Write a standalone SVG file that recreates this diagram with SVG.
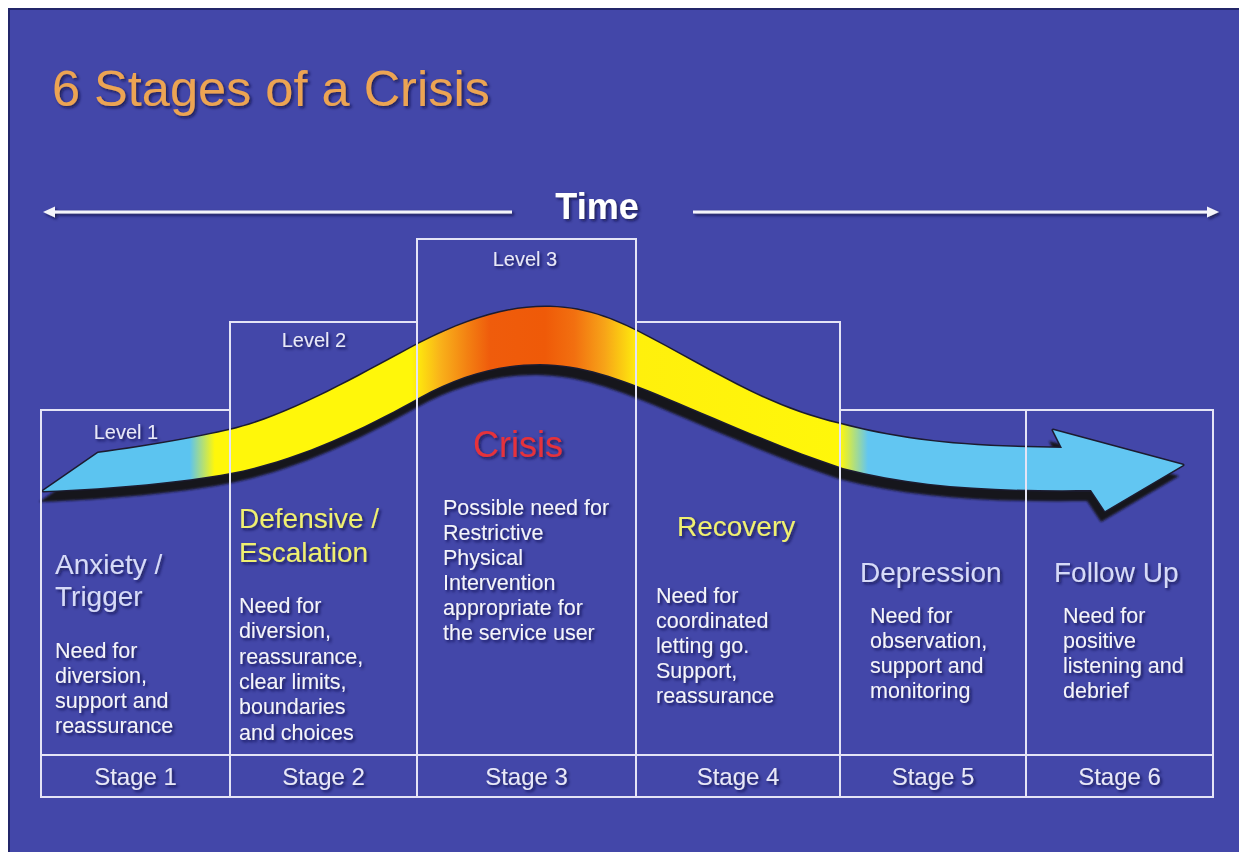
<svg xmlns="http://www.w3.org/2000/svg" width="1239" height="852" viewBox="0 0 1239 852">
  <style>
    .t { font-family: "Liberation Sans", Arial, Helvetica, sans-serif; }
    .box { fill: none; stroke: #E4E4F6; stroke-width: 2; }
    .lvl { font-size: 20px; fill: #E8E8F8; text-anchor: middle; }
    .head { font-size: 28px; }
    .lav { fill: #D6DAF8; }
    .yel { fill: #F0F070; }
    .red { fill: #E6323A; }
    .body { font-size: 21.5px; fill: #F4F4FA; }
    .stage { font-size: 24px; fill: #E8E8F8; text-anchor: middle; }
    .axis { stroke: #F4F4FA; stroke-width: 3; fill: none; }
  </style>
  <defs>
    <filter id="txtShadow" x="-10%" y="-30%" width="130%" height="170%">
      <feDropShadow dx="2" dy="2" stdDeviation="1.6" flood-color="#14163C" flood-opacity="0.75"/>
    </filter>
    <filter id="soft" x="-5%" y="-10%" width="110%" height="130%">
      <feGaussianBlur stdDeviation="1.2"/>
    </filter>
    <linearGradient id="bandGrad" gradientUnits="userSpaceOnUse" x1="40" y1="0" x2="1190" y2="0">
      <stop offset="0" stop-color="#5CC4F0"/>
      <stop offset="0.130" stop-color="#5CC4F0"/>
      <stop offset="0.152" stop-color="#FFF70A"/>
      <stop offset="0.323" stop-color="#FFF70A"/>
      <stop offset="0.348" stop-color="#F9B21A"/>
      <stop offset="0.372" stop-color="#F38012"/>
      <stop offset="0.391" stop-color="#EF5C0C"/>
      <stop offset="0.439" stop-color="#EF5A08"/>
      <stop offset="0.465" stop-color="#F27010"/>
      <stop offset="0.491" stop-color="#F7A418"/>
      <stop offset="0.520" stop-color="#FFF00C"/>
      <stop offset="0.696" stop-color="#FFF70A"/>
      <stop offset="0.720" stop-color="#62C6F2"/>
      <stop offset="1" stop-color="#62C6F2"/>
    </linearGradient>
    <path id="band" d="M 98,453 C 150,446 200,437 230,430 C 290,416 360,375 420,343 C 470,318 510,306 550,307 C 590,308 620,322 650,338 C 720,375 770,408 840,424 C 900,440 960,447 1062,448 L 1053,430 L 1183,465 L 1105,511 L 1091,490 C 1000,491 920,488 843,468 C 780,447 720,420 667,398 C 620,378 580,364 540,364 C 500,364 460,375 420,397 C 370,425 300,460 230,473 C 180,482 120,488 43,491 Z"/>
  </defs>

  <!-- page and panel -->
  <rect x="0" y="0" width="1239" height="852" fill="#FFFFFF"/>
  <rect x="9" y="9" width="1232" height="845" fill="#4347A9" stroke="#23266A" stroke-width="2"/>

  <!-- title -->
  <text class="t" x="52" y="106" font-size="50.5" fill="#ECA453" filter="url(#txtShadow)">6 Stages of a Crisis</text>

  <!-- time axis -->
  <g id="connectors">
    <g filter="url(#txtShadow)">
      <line class="axis" x1="52" y1="212" x2="512" y2="212"/>
      <polygon points="43,212 55,206.5 55,217.5" fill="#F4F4FA"/>
      <line class="axis" x1="693" y1="212" x2="1209" y2="212"/>
      <polygon points="1219,212 1207,206.5 1207,217.5" fill="#F4F4FA"/>
    </g>
    <text class="t" x="597" y="219" font-size="36" font-weight="bold" fill="#FFFFFF" text-anchor="middle" filter="url(#txtShadow)">Time</text>
  </g>

  <!-- escalation curve: drop shadow, thin dark rim, gradient fill -->
  <g id="crisis-curve">
    <use href="#band" transform="translate(-4,11)" fill="#16161C" filter="url(#soft)"/>
    <use href="#band" fill="none" stroke="#1C1C30" stroke-width="3" stroke-linejoin="round"/>
    <use href="#band" fill="url(#bandGrad)"/>
  </g>

  <g id="stage1">
    <rect class="box" x="41" y="410" width="189" height="387"/>
    <text class="t lvl" x="126" y="439" filter="url(#txtShadow)">Level 1</text>
    <g class="t" filter="url(#txtShadow)">
      <text class="head lav" x="55" y="574">Anxiety /</text>
      <text class="head lav" x="55" y="606">Trigger</text>
      <text class="body" x="55" y="658">Need for</text>
      <text class="body" x="55" y="683">diversion,</text>
      <text class="body" x="55" y="708">support and</text>
      <text class="body" x="55" y="733">reassurance</text>
    </g>
    <text class="t stage" x="135.5" y="785" filter="url(#txtShadow)">Stage 1</text>
  </g>

  <g id="stage2">
    <rect class="box" x="230" y="322" width="187" height="475"/>
    <text class="t lvl" x="314" y="347" filter="url(#txtShadow)">Level 2</text>
    <g class="t" filter="url(#txtShadow)">
      <text class="head yel" x="239" y="528">Defensive /</text>
      <text class="head yel" x="239" y="562">Escalation</text>
      <text class="body" x="239" y="613">Need for</text>
      <text class="body" x="239" y="638">diversion,</text>
      <text class="body" x="239" y="664">reassurance,</text>
      <text class="body" x="239" y="689">clear limits,</text>
      <text class="body" x="239" y="714">boundaries</text>
      <text class="body" x="239" y="740">and choices</text>
    </g>
    <text class="t stage" x="323.5" y="785" filter="url(#txtShadow)">Stage 2</text>
  </g>

  <g id="stage3">
    <rect class="box" x="417" y="239" width="219" height="558"/>
    <text class="t lvl" x="525" y="266" filter="url(#txtShadow)">Level 3</text>
    <g class="t" filter="url(#txtShadow)">
      <text class="red" x="518" y="457" font-size="36" text-anchor="middle">Crisis</text>
      <text class="body" x="443" y="515">Possible need for</text>
      <text class="body" x="443" y="540">Restrictive</text>
      <text class="body" x="443" y="565">Physical</text>
      <text class="body" x="443" y="590">Intervention</text>
      <text class="body" x="443" y="615">appropriate for</text>
      <text class="body" x="443" y="640">the service user</text>
    </g>
    <text class="t stage" x="526.5" y="785" filter="url(#txtShadow)">Stage 3</text>
  </g>

  <g id="stage4">
    <rect class="box" x="636" y="322" width="204" height="475"/>
    <g class="t" filter="url(#txtShadow)">
      <text class="head yel" x="677" y="536">Recovery</text>
      <text class="body" x="656" y="603">Need for</text>
      <text class="body" x="656" y="628">coordinated</text>
      <text class="body" x="656" y="653">letting go.</text>
      <text class="body" x="656" y="678">Support,</text>
      <text class="body" x="656" y="703">reassurance</text>
    </g>
    <text class="t stage" x="738" y="785" filter="url(#txtShadow)">Stage 4</text>
  </g>

  <g id="stage5">
    <rect class="box" x="840" y="410" width="186" height="387"/>
    <g class="t" filter="url(#txtShadow)">
      <text class="head lav" x="860" y="582">Depression</text>
      <text class="body" x="870" y="623">Need for</text>
      <text class="body" x="870" y="648">observation,</text>
      <text class="body" x="870" y="673">support and</text>
      <text class="body" x="870" y="698">monitoring</text>
    </g>
    <text class="t stage" x="933" y="785" filter="url(#txtShadow)">Stage 5</text>
  </g>

  <g id="stage6">
    <rect class="box" x="1026" y="410" width="187" height="387"/>
    <g class="t" filter="url(#txtShadow)">
      <text class="head lav" x="1054" y="582">Follow Up</text>
      <text class="body" x="1063" y="623">Need for</text>
      <text class="body" x="1063" y="648">positive</text>
      <text class="body" x="1063" y="673">listening and</text>
      <text class="body" x="1063" y="698">debrief</text>
    </g>
    <text class="t stage" x="1119.5" y="785" filter="url(#txtShadow)">Stage 6</text>
  </g>

  <!-- stage label row divider -->
  <line class="box" x1="41" y1="755" x2="1213" y2="755"/>
</svg>
